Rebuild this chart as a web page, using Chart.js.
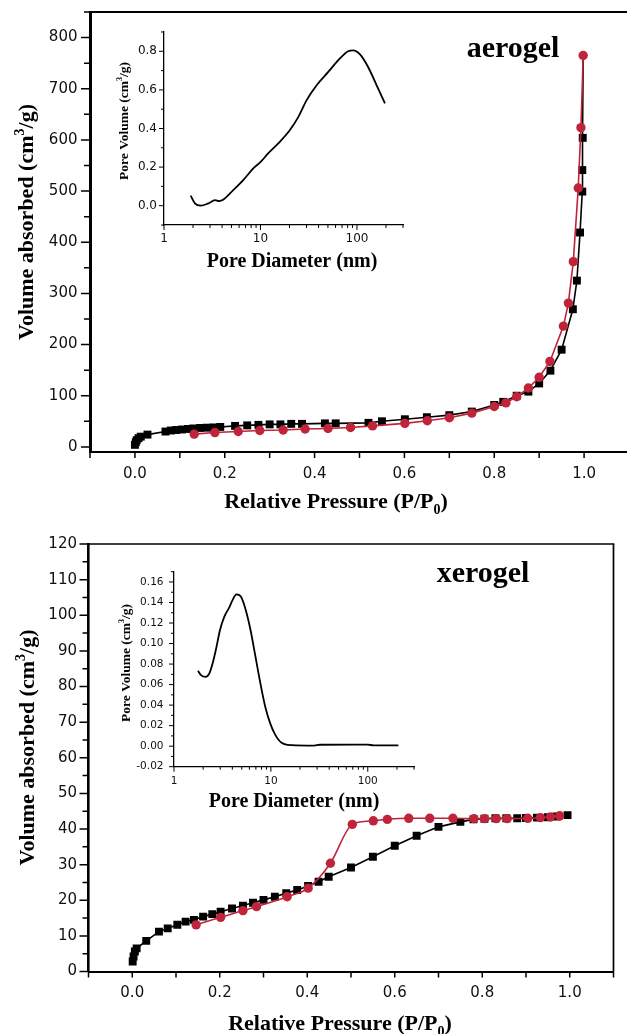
<!DOCTYPE html>
<html><head><meta charset="utf-8">
<script src="https://cdn.jsdelivr.net/npm/chart.js@4.4.1/dist/chart.umd.min.js"></script>
<style>
html,body{margin:0;padding:0;background:#fff;width:627px;height:1034px;overflow:hidden;position:relative;}
canvas{position:absolute;}
</style></head><body>
<canvas id="mainTop" width="640" height="520" style="left:0px;top:0px"></canvas>
<canvas id="insetTop" width="320" height="270" style="left:100px;top:20px"></canvas>
<canvas id="mainBot" width="640" height="514" style="left:0px;top:520px"></canvas>
<canvas id="insetBot" width="330" height="270" style="left:100px;top:550px"></canvas>
<script>
// ---------------- DATA ----------------
// Aerogel isotherm: adsorption (black squares)
const aeroAdsP = [0.000,0.002,0.004,0.008,0.013,0.028,0.068,0.080,0.092,0.105,0.118,0.130,0.145,0.160,0.175,0.190,0.223,0.250,0.275,0.300,0.324,0.348,0.372,0.423,0.447,0.520,0.550,0.601,0.650,0.700,0.750,0.800,0.820,0.850,0.876,0.900,0.925,0.950,0.975,0.984,0.991,0.996,0.996,0.997,0.998];
const aeroAdsV = [4,9,13,17,20,24,30,32,33,34,35,36,37,37.5,38,39,41,42,43,44,44,45,45,46,46,47,50,54,58,62,69,82,88,100,108,124,149,190,269,325,419,499,541,604,765];
// Aerogel isotherm: desorption (red circles)
const aeroDesP = [0.998,0.993,0.987,0.976,0.965,0.954,0.924,0.900,0.876,0.850,0.826,0.800,0.750,0.700,0.651,0.601,0.529,0.480,0.430,0.379,0.330,0.278,0.230,0.178,0.132];
const aeroDesV = [765,624,506,362,281,236,167,136,115,98,86,79,66,57,51,46,41,38,36,35,33,32,30,28,25];
// Aerogel pore size distribution (inset)
const aeroPsdD = [1.89,2.09,2.40,2.88,3.38,3.74,4.06,5.22,6.63,8.42,10.1,12.0,15.3,20.2,24.7,30.1,38.2,50.4,66.6,81,91.5,107,130,160,195];
const aeroPsdV = [0.052,0.012,0.0,0.012,0.029,0.024,0.029,0.081,0.133,0.193,0.228,0.271,0.323,0.392,0.46,0.547,0.624,0.693,0.763,0.80,0.805,0.785,0.72,0.624,0.53];

// Xerogel isotherm: adsorption (black squares)
const xeroAdsP = [0.001,0.003,0.006,0.010,0.032,0.061,0.081,0.103,0.122,0.141,0.162,0.183,0.202,0.228,0.253,0.276,0.300,0.326,0.352,0.377,0.402,0.426,0.449,0.500,0.550,0.600,0.650,0.700,0.750,0.780,0.805,0.830,0.855,0.880,0.900,0.925,0.950,0.970,0.995];
const xeroAdsV = [2.8,4.2,5.6,6.5,8.6,11.2,12.1,13.1,14.0,14.5,15.4,16.1,16.8,17.7,18.5,19.3,20.1,21.0,22.0,22.9,24.0,25.2,26.6,29.2,32.2,35.3,38.1,40.6,42.0,42.7,42.9,43.0,43.0,43.0,43.1,43.2,43.3,43.5,43.9];
// Xerogel isotherm: desorption (red circles)
const xeroDesP = [0.977,0.956,0.933,0.904,0.857,0.832,0.805,0.781,0.733,0.680,0.632,0.583,0.551,0.503,0.453,0.402,0.354,0.284,0.253,0.202,0.146];
const xeroDesV = [43.7,43.4,43.2,43.0,42.9,42.9,42.9,42.9,43.0,43.0,43.0,42.7,42.3,41.3,30.4,23.4,21.0,18.2,17.1,15.2,13.1];
// Xerogel pore size distribution (inset)
const xeroPsdD = [1.77,1.91,2.12,2.32,2.51,2.72,2.98,3.30,3.71,4.01,4.40,4.88,5.49,6.17,6.94,7.80,8.77,9.86,11.1,12.9,16.4,28,32,100,115,207];
const xeroPsdV = [0.0735,0.069,0.0676,0.071,0.081,0.095,0.113,0.126,0.135,0.142,0.148,0.146,0.133,0.113,0.087,0.061,0.038,0.022,0.011,0.0033,0.001,0.0006,0.0014,0.0015,0.0008,0.0008];

// Tick values / labels
const pressureTicks = [0,0.2,0.4,0.6,0.8,1.0];
const pressureTickLabels = ['0.0','0.2','0.4','0.6','0.8','1.0'];
const aeroVolTicks = [0,100,200,300,400,500,600,700,800];
const xeroVolTicks = [0,10,20,30,40,50,60,70,80,90,100,110,120];
const diamTicks = [1,10,100];
const diamTickLabels = ['1','10','100'];
const aeroPsdTicks = [0,0.2,0.4,0.6,0.8];
const aeroPsdTickLabels = ['0.0','0.2','0.4','0.6','0.8'];
const xeroPsdTicks = [-0.02,0,0.02,0.04,0.06,0.08,0.10,0.12,0.14,0.16];
const xeroPsdTickLabels = ['-0.02','0.00','0.02','0.04','0.06','0.08','0.10','0.12','0.14','0.16'];

// ---------------- HELPERS ----------------
const RED = '#c0243a';
const SERIF = "'Liberation Serif','Times New Roman',serif";
const SANS = "'DejaVu Sans',sans-serif";
const pts = (xs, ys) => xs.map((x, i) => ({x: x, y: ys[i]}));
const range = (a, b, s) => { const r = []; for (let v = a; v <= b + s * 1e-6; v += s) r.push(+v.toFixed(6)); return r; };
const logMinor = [2,3,4,5,6,7,8,9,20,30,40,50,60,70,80,90,200,300];

const tickMarks = {
  id: 'tickMarks',
  afterDraw(chart, args, o) {
    const ctx = chart.ctx, a = chart.chartArea, xs = chart.scales.x, ys = chart.scales.y;
    ctx.save(); ctx.strokeStyle = '#000'; ctx.lineWidth = o.width;
    ctx.beginPath();
    const xl = (vals, len) => vals.forEach(v => { const p = xs.getPixelForValue(v); ctx.moveTo(p, a.bottom); ctx.lineTo(p, a.bottom + len); });
    const yl = (vals, len) => vals.forEach(v => { const p = ys.getPixelForValue(v); ctx.moveTo(a.left, p); ctx.lineTo(a.left - len, p); });
    xl(o.xMajor, o.xMajLen); xl(o.xMinor, o.xMinLen); yl(o.yMajor, o.yMajLen); yl(o.yMinor, o.yMinLen);
    ctx.stroke(); ctx.restore();
  }
};
const frame = {
  id: 'frame',
  afterDraw(chart, args, o) {
    const ctx = chart.ctx, a = chart.chartArea;
    ctx.save(); ctx.strokeStyle = '#000';
    if (o.top) { ctx.lineWidth = o.top; ctx.beginPath(); ctx.moveTo(a.left, a.top); ctx.lineTo(a.right + o.right / 2, a.top); ctx.stroke(); }
    if (o.right) { ctx.lineWidth = o.right; ctx.beginPath(); ctx.moveTo(a.right, a.top); ctx.lineTo(a.right, a.bottom); ctx.stroke(); }
    ctx.restore();
  }
};
function drawRich(ctx, it) {
  ctx.save();
  ctx.translate(it.x, it.y);
  if (it.rot) ctx.rotate(it.rot);
  const w8 = it.weight || 'bold';
  const big = w8 + ' ' + it.size + 'px ' + SERIF;
  const small = w8 + ' ' + Math.round(it.size * 0.62) + 'px ' + SERIF;
  let w = 0;
  it.segs.forEach(s => { ctx.font = s.s ? small : big; w += ctx.measureText(s.t).width; });
  let x = -w / 2;
  ctx.textBaseline = 'alphabetic'; ctx.textAlign = 'left'; ctx.fillStyle = '#000';
  it.segs.forEach(s => {
    ctx.font = s.s ? small : big;
    const dy = s.s === 'sup' ? -it.size * 0.4 : (s.s === 'sub' ? it.size * 0.25 : 0);
    ctx.fillText(s.t, x, dy);
    x += ctx.measureText(s.t).width;
  });
  ctx.restore();
}
const richText = { id: 'richText', afterDraw(chart, args, o) { (o.items || []).forEach(it => drawRich(chart.ctx, it)); } };

const volSegs = [{t: 'Volume absorbed (cm'}, {t: '3', s: 'sup'}, {t: '/g)'}];
const presSegs = [{t: 'Relative Pressure (P/P'}, {t: '0', s: 'sub'}, {t: ')'}];
const poreVolSegs = [{t: 'Pore Volume (cm'}, {t: '3', s: 'sup'}, {t: '/g)'}];
const poreDiaSegs = [{t: 'Pore Diameter (nm)'}];

function axis(o) {
  return {
    type: o.type || 'linear', min: o.min, max: o.max,
    afterBuildTicks: s => { s.ticks = o.ticks.map(v => ({value: v})); },
    afterFit: s => { o.fit(s); s.paddingTop = 0; s.paddingBottom = 0; s.paddingLeft = 0; s.paddingRight = 0; },
    ticks: { callback: (v, i) => o.labels[i], font: {family: SANS, size: o.font}, color: '#111', padding: o.pad, maxRotation: 0, autoSkip: false },
    grid: { display: false, drawTicks: false },
    border: { display: true, width: o.border, color: '#000' }
  };
}
function isoChart(id, W, H, area, xAx, yAx, dsRed, dsBlack, redCurve, marks, fr, items) {
  const lastBlack = dsBlack.length - 1;
  return new Chart(document.getElementById(id), {
    type: 'scatter',
    data: { datasets: [
      { data: dsRed, showLine: true, borderColor: RED, backgroundColor: RED, pointBackgroundColor: RED, pointBorderColor: RED,
        pointStyle: 'circle', pointRadius: 4.7, pointBorderWidth: 0, borderWidth: 1.6, cubicInterpolationMode: redCurve ? 'monotone' : 'default', tension: 0 },
      { data: dsBlack, showLine: true, borderColor: '#000', backgroundColor: '#000', pointBackgroundColor: '#000', pointBorderColor: '#000',
        pointStyle: 'rect', pointRadius: c => (!redCurve && c.dataIndex === lastBlack) ? 0 : 5.6, pointBorderWidth: 0, borderWidth: 1.6, tension: 0 }
    ]},
    options: {
      responsive: false, animation: false, events: [],
      layout: { padding: { left: 0, top: area.top, right: W - area.right, bottom: 0 } },
      plugins: { legend: {display: false}, tooltip: {enabled: false}, tickMarks: marks, frame: fr, richText: {items: items} },
      scales: { x: xAx, y: yAx }
    },
    plugins: [tickMarks, frame, richText]
  });
}
function psdChart(id, W, H, area, xAx, yAx, data, marks, items) {
  return new Chart(document.getElementById(id), {
    type: 'scatter',
    data: { datasets: [ { data: data, showLine: true, borderColor: '#000', borderWidth: 1.8, pointRadius: 0, cubicInterpolationMode: 'monotone' } ] },
    options: {
      responsive: false, animation: false, events: [],
      layout: { padding: { left: 0, top: area.top, right: W - area.right, bottom: 0 } },
      plugins: { legend: {display: false}, tooltip: {enabled: false}, tickMarks: marks, frame: {}, richText: {items: items} },
      scales: { x: xAx, y: yAx }
    },
    plugins: [tickMarks, frame, richText]
  });
}

// ---------------- TOP (aerogel) ----------------
(function () {
  const W = 640, H = 520, a = {left: 90, top: 12, right: 629, bottom: 452};
  const xAx = axis({min: -0.1, max: 1.1, ticks: pressureTicks, labels: pressureTickLabels, font: 15, pad: 13, border: 2, fit: s => { s.height = H - a.bottom; }});
  const yAx = axis({min: -10, max: 850, ticks: aeroVolTicks, labels: aeroVolTicks.map(String), font: 15, pad: 12.5, border: 3, fit: s => { s.width = a.left; }});
  isoChart('mainTop', W, H, a, xAx, yAx, pts(aeroDesP, aeroDesV), pts(aeroAdsP, aeroAdsV), false,
    { width: 1.5, xMajor: pressureTicks, xMajLen: 6, xMinor: range(-0.1, 1.1, 0.2), xMinLen: 6,
      yMajor: aeroVolTicks, yMajLen: 9, yMinor: range(50, 850, 100), yMinLen: 6 },
    { top: 2, right: 2 },
    [ { segs: volSegs, x: 33, y: 222, rot: -Math.PI / 2, size: 22 },
      { segs: presSegs, x: 336, y: 508, size: 22 },
      { segs: [{t: 'aerogel'}], x: 513, y: 57, size: 30 } ]);
})();
(function () {
  const ox = 100, oy = 20, W = 320, H = 270;
  const a = {left: 164 - ox, top: 32 - oy, right: 403 - ox, bottom: 225 - oy};
  const xAx = axis({type: 'logarithmic', min: 1, max: 300, ticks: diamTicks, labels: diamTickLabels, font: 12, pad: 7, border: 1.3, fit: s => { s.height = H - a.bottom; }});
  const yAx = axis({min: -0.1, max: 0.9, ticks: aeroPsdTicks, labels: aeroPsdTickLabels, font: 12, pad: 7, border: 1.3, fit: s => { s.width = a.left; }});
  psdChart('insetTop', W, H, a, xAx, yAx, pts(aeroPsdD, aeroPsdV),
    { width: 1, xMajor: diamTicks, xMajLen: 5, xMinor: logMinor, xMinLen: 3,
      yMajor: aeroPsdTicks, yMajLen: 5, yMinor: range(-0.1, 0.9, 0.2), yMinLen: 3 },
    [ { segs: poreVolSegs, x: 127.5 - ox, y: 121 - oy, rot: -Math.PI / 2, size: 13.5 },
      { segs: poreDiaSegs, x: 292 - ox, y: 267 - oy, size: 20 } ]);
})();

// ---------------- BOTTOM (xerogel) ----------------
(function () {
  const oy = 520, W = 640, H = 514, a = {left: 88.5, top: 544 - oy, right: 613.5, bottom: 971.5 - oy};
  const xAx = axis({min: -0.1, max: 1.1, ticks: pressureTicks, labels: pressureTickLabels, font: 15, pad: 13, border: 2, fit: s => { s.height = H - a.bottom; }});
  const yAx = axis({min: 0, max: 120, ticks: xeroVolTicks, labels: xeroVolTicks.map(String), font: 15, pad: 11.5, border: 2.6, fit: s => { s.width = a.left; }});
  isoChart('mainBot', W, H, a, xAx, yAx, pts(xeroDesP, xeroDesV), pts(xeroAdsP, xeroAdsV), true,
    { width: 1.5, xMajor: pressureTicks, xMajLen: 6, xMinor: range(-0.1, 1.1, 0.2), xMinLen: 6,
      yMajor: xeroVolTicks, yMajLen: 9, yMinor: range(5, 115, 10), yMinLen: 6 },
    { top: 1.6, right: 1.7 },
    [ { segs: volSegs, x: 34, y: 747.5 - oy, rot: -Math.PI / 2, size: 22 },
      { segs: presSegs, x: 340, y: 1030 - oy, size: 22 },
      { segs: [{t: 'xerogel'}], x: 483, y: 582 - oy, size: 30 } ]);
})();
(function () {
  const ox = 100, oy = 550, W = 330, H = 270;
  const a = {left: 174 - ox, top: 571.7 - oy, right: 414 - ox, bottom: 766.7 - oy};
  const xAx = axis({type: 'logarithmic', min: 1, max: 300, ticks: diamTicks, labels: diamTickLabels, font: 10.5, pad: 8, border: 1.3, fit: s => { s.height = H - a.bottom; }});
  const yAx = axis({min: -0.02, max: 0.17, ticks: xeroPsdTicks, labels: xeroPsdTickLabels, font: 10.5, pad: 10.5, border: 1.3, fit: s => { s.width = a.left; }});
  psdChart('insetBot', W, H, a, xAx, yAx, pts(xeroPsdD, xeroPsdV),
    { width: 1, xMajor: diamTicks, xMajLen: 5, xMinor: logMinor, xMinLen: 3,
      yMajor: xeroPsdTicks, yMajLen: 5, yMinor: range(-0.01, 0.17, 0.02), yMinLen: 3 },
    [ { segs: poreVolSegs, x: 129.5 - ox, y: 663 - oy, rot: -Math.PI / 2, size: 13.5 },
      { segs: poreDiaSegs, x: 294 - ox, y: 807 - oy, size: 20 } ]);
})();
</script>
</body></html>
